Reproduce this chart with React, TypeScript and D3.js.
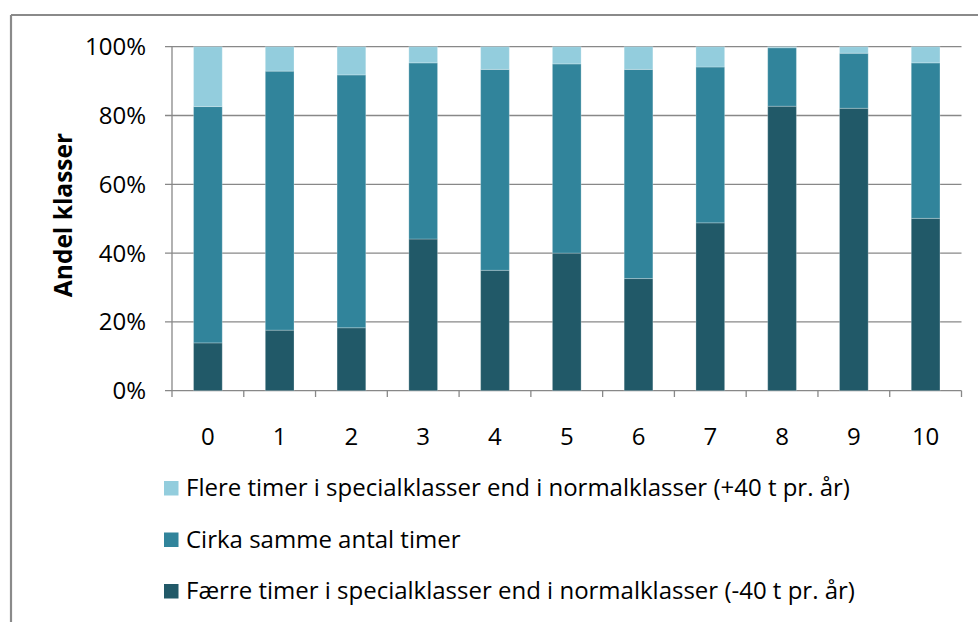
import React from "react";
import * as d3 from "d3";

const categories = ["0", "1", "2", "3", "4", "5", "6", "7", "8", "9", "10"];
const faerre = [13.9, 17.6, 18.3, 44.1, 35.0, 40.0, 32.6, 48.8, 82.7, 82.1, 50.1];
const cirka = [68.7, 75.3, 73.5, 51.2, 58.4, 55.0, 60.8, 45.3, 17.0, 16.0, 45.2];
const flere = [17.4, 7.1, 8.2, 4.7, 6.6, 5.0, 6.6, 5.9, 0.3, 1.9, 4.7];
const yTicks = [0, 20, 40, 60, 80, 100];

const seriesNames = [
  "Færre timer i specialklasser end i normalklasser (-40 t pr. år)",
  "Cirka samme antal timer",
  "Flere timer i specialklasser end i normalklasser (+40 t pr. år)",
];
const seriesColors = ["#215968", "#31849B", "#93CDDD"];
const seriesValues = [faerre, cirka, flere];

const W = 978;
const H = 622;
const FONT = "'Liberation Sans Narrow', 'Open Sans', sans-serif";

export default function App() {
  const x = d3.scaleBand<string>().domain(categories).range([172, 961.5]).paddingInner(0.6).paddingOuter(0.3);
  const xb = d3.scaleBand<string>().domain(categories).range([172, 961.5]);
  const y = d3.scaleLinear().domain([0, 100]).range([390.7, 46.7]);

  const stackData = categories.map((c, i) => ({
    cat: c,
    s0: seriesValues[0][i],
    s1: seriesValues[1][i],
    s2: seriesValues[2][i],
  }));
  const stack = d3.stack<any>().keys(["s0", "s1", "s2"]);
  const layers = stack(stackData);

  const legendOrder = [2, 1, 0];
  const legendY = [488, 539.5, 591];

  return (
    <svg width={W} height={H} style={{ position: "absolute", left: 0, top: 0 }} fontFamily={FONT}>
      <rect x={0} y={0} width={W} height={H} fill="#fff" />
      {/* outer border */}
      <line x1={11} y1={15} x2={W} y2={15} stroke="#8a8a8a" strokeWidth={2.2} />
      <line x1={11} y1={15} x2={11} y2={H} stroke="#8a8a8a" strokeWidth={2.2} />

      {/* gridlines */}
      {yTicks.map((t) => (
        <g key={t}>
          <line x1={165} x2={961.5} y1={y(t)} y2={y(t)} stroke="#888" strokeWidth={1.3} />
          <text x={146} y={y(t)} dy="0.35em" textAnchor="end" fontSize={24} fill="#000">
            {t + "%"}
          </text>
        </g>
      ))}
      {/* y axis line */}
      <line x1={172} x2={172} y1={46.7} y2={390.7} stroke="#888" strokeWidth={1.3} />
      {/* x axis ticks */}
      {categories.map((c) => (
        <line key={"t" + c} x1={xb(c)!} x2={xb(c)!} y1={390.7} y2={397} stroke="#888" strokeWidth={1.3} />
      ))}
      <line x1={961.5} x2={961.5} y1={390.7} y2={397} stroke="#888" strokeWidth={1.3} />

      {/* bars */}
      {layers.map((layer, li) => (
        <g key={li} fill={seriesColors[li]}>
          {layer.map((d, i) => (
            <rect
              key={i}
              x={x(categories[i])!}
              width={x.bandwidth()}
              y={y(d[1])}
              height={Math.max(0, y(d[0]) - y(d[1]))}
              stroke="rgba(255,255,255,0.25)"
              strokeWidth={1}
            />
          ))}
        </g>
      ))}

      {/* x labels */}
      {categories.map((c) => (
        <text key={"l" + c} x={xb(c)! + xb.bandwidth() / 2} y={437} dy="0.35em" textAnchor="middle" fontSize={24} fill="#000">
          {c}
        </text>
      ))}

      {/* y title */}
      <text
        transform={`translate(72,215) rotate(-90)`}
        textAnchor="middle"
        fontSize={24.5}
        fontWeight="bold"
        fill="#000"
      >
        Andel klasser
      </text>

      {/* legend */}
      {legendOrder.map((si, k) => (
        <g key={si}>
          <rect x={164} y={legendY[k] - 7} width={14.5} height={14.5} fill={seriesColors[si]} />
          <text x={186} y={legendY[k]} dy="0.35em" fontSize={24} fill="#000">
            {seriesNames[si]}
          </text>
        </g>
      ))}
    </svg>
  );
}
